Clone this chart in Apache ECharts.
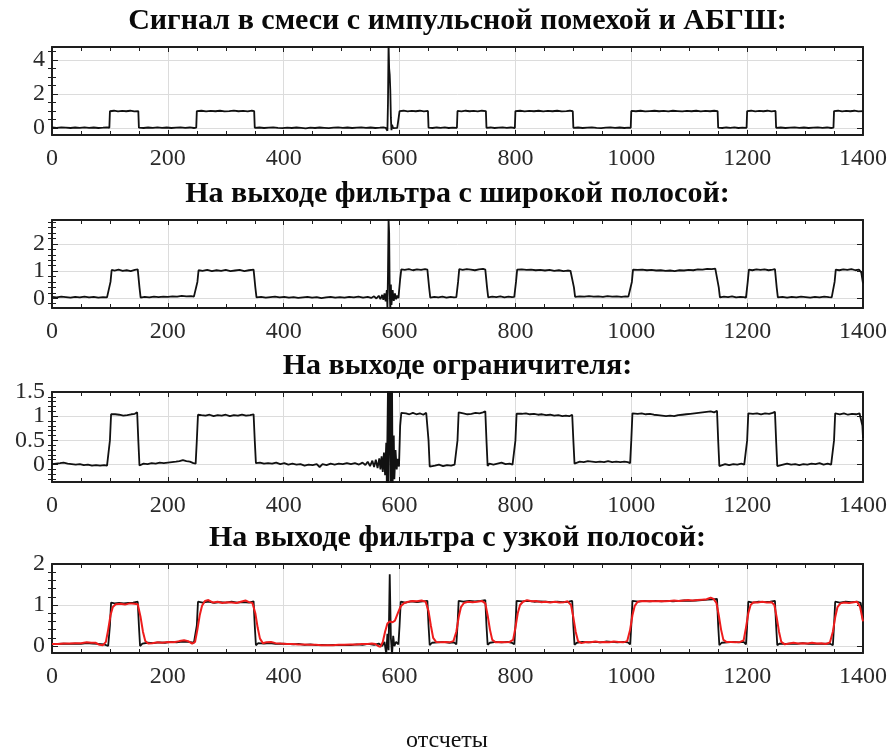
<!DOCTYPE html>
<html>
<head>
<meta charset="utf-8">
<script src="https://cdn.jsdelivr.net/npm/echarts@6/dist/echarts.min.js"></script>
<style>
html, body { margin: 0; padding: 0; background: #ffffff; }
#chart { width: 894px; height: 749px; }
</style>
</head>
<body>
<div id="chart"></div>
<script>
// ---- labels ----
const panelTitles = [
  'Сигнал в смеси с импульсной помехой и АБГШ:',
  'На выходе фильтра с широкой полосой:',
  'На выходе ограничителя:',
  'На выходе фильтра с узкой полосой:'
];
const xAxisName = 'отсчеты';
const xTicks = [0, 200, 400, 600, 800, 1000, 1200, 1400];

// ---- y axis ranges and tick labels for each panel ----
const yRange1 = [-0.4, 4.75];  const yTicks1 = [0, 2, 4];        const yMinor1 = 0.5;
const yRange2 = [-0.36, 2.88]; const yTicks2 = [0, 1, 2];        const yMinor2 = 0.2;
const yRange3 = [-0.36, 1.5];  const yTicks3 = [0, 0.5, 1, 1.5]; const yMinor3 = 0.1;
const yRange4 = [-0.17, 2];    const yTicks4 = [0, 1, 2];        const yMinor4 = 0.2;

// ---- signal + impulse noise + AWGN ----
const mixSignal = [
[0,0.04],[8,0.02],[16,0.05],[24,0.03],[32,0.01],[40,0.04],[48,0.02],[56,0.05],[64,0.02],[72,0.04],[80,0.01],[88,0.03],[95,0.05],[99,0.02],
[100,0.99],[107,1.02],[114,0.98],[121,1.01],[128,0.99],[135,1.02],[142,0.98],[149,1.0],
[150,0.03],[158,0.01],[166,0.04],[174,0.02],[182,0.05],[190,0.02],[198,0.04],[206,0.01],[214,0.03],[222,0.05],[230,0.02],[238,0.04],[245,0.01],[249,0.03],
[250,1.0],[258,1.02],[266,0.98],[274,1.01],[282,0.99],[290,1.02],[298,0.98],[306,1.0],[314,1.03],[322,0.99],[330,1.01],[338,0.98],[345,1.02],[349,1.0],
[350,0.02],[358,0.04],[366,0.01],[374,0.03],[382,0.05],[390,0.02],[398,0.0],[406,0.03],[414,0.01],[422,0.04],[430,0.02],[438,-0.01],[446,0.03],[454,0.01],[462,0.04],[470,0.02],[478,0.0],[486,0.03],[494,0.05],[502,0.02],[510,0.04],[518,0.01],[526,0.03],[534,0.05],[542,0.02],[550,0.04],[558,0.01],[566,0.03],[572,0.05],[576,0.02],
[578,0.08],[579,-0.15],[580,1.5],[581,4.9],[582,3.5],[583,3.1],[584,2.2],[585,0.6],[586,-0.12],[587,0.2],[589,0.0],[592,0.05],[596,0.02],[599,0.04],
[600,1.0],[607,1.02],[614,0.98],[621,1.01],[628,0.99],[635,1.02],[642,0.98],[649,1.01],
[650,0.03],[657,0.01],[664,0.04],[671,0.02],[678,0.05],[685,0.01],[692,0.03],[699,0.02],
[700,1.01],[707,0.98],[714,1.02],[721,0.99],[728,1.01],[735,0.98],[742,1.02],[749,1.0],
[750,0.02],[757,0.04],[764,0.01],[771,0.03],[778,0.05],[785,0.02],[792,0.04],[799,0.01],
[800,1.0],[808,1.02],[816,0.98],[824,1.01],[832,0.99],[840,1.02],[848,0.98],[856,1.01],[864,0.99],[872,1.02],[880,0.98],[888,1.0],[894,1.02],[899,0.99],
[900,0.02],[908,0.04],[916,0.01],[924,0.03],[932,0.05],[940,0.02],[948,0.0],[956,0.03],[964,0.05],[972,0.02],[980,0.04],[988,0.01],[995,0.03],[999,0.02],
[1000,1.01],[1008,0.99],[1016,1.02],[1024,0.98],[1032,1.0],[1040,1.02],[1048,0.99],[1056,1.01],[1064,0.98],[1072,1.02],[1080,1.0],[1088,0.98],[1096,1.01],[1104,0.99],[1112,1.02],[1120,0.98],[1128,1.01],[1136,0.99],[1143,1.02],[1149,1.0],
[1150,0.03],[1157,0.01],[1164,0.04],[1171,0.02],[1178,0.05],[1185,0.01],[1192,0.03],[1199,0.02],
[1200,1.0],[1207,1.02],[1214,0.98],[1221,1.01],[1228,0.99],[1235,1.02],[1242,0.98],[1249,1.01],
[1250,0.02],[1258,0.04],[1266,0.01],[1274,0.03],[1282,0.05],[1290,0.02],[1298,0.04],[1306,0.01],[1314,0.03],[1322,0.05],[1330,0.02],[1338,0.04],[1345,0.01],[1349,0.03],
[1350,1.0],[1357,1.02],[1364,0.98],[1371,1.01],[1378,0.99],[1385,1.02],[1392,0.98],[1400,1.0]
];

// ---- wideband filter output ----
const wideFilterOut = [
[0,0.05],[8,0.03],[16,0.06],[24,0.04],[32,0.02],[40,0.05],[48,0.03],[56,0.06],[64,0.03],[72,0.05],[80,0.02],[88,0.04],[95,0.03],[98,0.0],
[101,0.6],[103,1.04],[108,1.02],[115,1.05],[122,1.01],[129,1.03],[136,1.0],[143,1.04],[148,1.06],
[151,0.4],[153,0.02],[160,0.05],[168,0.03],[176,0.06],[184,0.04],[192,0.06],[200,0.05],[208,0.07],[216,0.06],[224,0.09],[232,0.07],[240,0.08],[245,0.06],[248,0.03],
[251,0.6],[253,1.03],[260,1.01],[268,1.04],[276,1.0],[284,1.03],[292,1.01],[300,1.04],[308,1.0],[316,1.02],[324,1.04],[332,1.0],[340,1.03],[348,1.05],
[351,0.4],[353,0.03],[361,0.05],[369,0.02],[377,0.04],[385,0.06],[393,0.03],[401,0.05],[409,0.02],[417,0.04],[425,0.01],[433,0.03],[441,0.05],[449,0.02],[457,0.04],[465,0.0],[473,0.03],[481,0.05],[489,0.02],[497,0.04],[505,0.02],[513,0.05],[521,0.03],[529,0.06],[537,0.02],[545,0.05],[551,0.01],[556,0.07],[560,-0.01],[564,0.09],[567,-0.03],[570,0.12],[572,-0.06],[574,0.18],[576,-0.12],[578,0.3],[579,-0.36],[580,0.9],[581,2.9],[582,2.4],[583,0.2],[584,-0.4],[585,0.5],[586,-0.25],[588,0.3],[590,-0.1],[592,0.18],[594,-0.04],[596,0.1],[598,0.0],
[601,0.7],[603,1.06],[609,1.04],[616,1.07],[623,1.03],[630,1.06],[637,1.04],[644,1.07],[648,1.05],
[651,0.4],[653,0.02],[660,0.05],[667,0.03],[674,0.06],[681,0.02],[688,0.05],[694,0.03],[698,0.04],
[701,0.6],[703,1.07],[709,1.04],[716,1.07],[723,1.05],[730,1.03],[737,1.06],[744,1.08],[748,1.05],
[751,0.4],[753,0.03],[760,0.06],[767,0.04],[774,0.07],[781,0.03],[788,0.06],[794,0.04],[798,0.05],
[801,0.6],[803,1.05],[811,1.06],[819,1.04],[827,1.05],[835,1.03],[843,1.04],[851,1.02],[859,1.04],[867,1.01],[875,1.03],[883,1.0],[890,1.02],[895,1.01],[898,1.03],
[901,0.4],[903,0.05],[911,0.07],[919,0.06],[927,0.08],[935,0.06],[943,0.07],[951,0.05],[959,0.08],[967,0.06],[975,0.07],[983,0.05],[990,0.07],[995,0.06],[998,0.05],
[1001,0.6],[1003,1.05],[1011,1.04],[1019,1.05],[1027,1.03],[1035,1.04],[1043,1.02],[1051,1.03],[1059,1.01],[1067,1.02],[1075,1.0],[1083,1.03],[1091,1.02],[1099,1.04],[1107,1.03],[1115,1.06],[1123,1.05],[1131,1.08],[1139,1.07],[1145,1.09],[1148,1.08],
[1151,0.4],[1153,0.03],[1160,0.06],[1167,0.04],[1174,0.07],[1181,0.03],[1188,0.05],[1194,0.04],[1198,0.02],
[1201,0.6],[1203,1.05],[1209,1.03],[1216,1.06],[1223,1.04],[1230,1.06],[1237,1.03],[1244,1.05],[1248,1.07],
[1251,0.4],[1253,0.03],[1261,0.05],[1269,0.02],[1277,0.05],[1285,0.03],[1293,0.06],[1301,0.04],[1309,0.02],[1317,0.05],[1325,0.03],[1333,0.06],[1341,0.04],[1346,0.03],[1348,0.04],
[1351,0.6],[1353,1.05],[1359,1.03],[1366,1.06],[1373,1.04],[1380,1.07],[1387,1.03],[1393,1.05],[1397,0.95],[1400,0.55]
];

// ---- limiter output ----
const limiterOut = [
[0,0.01],[7,0.02],[14,0.03],[20,0.04],[27,0.02],[34,0.01],[41,0.0],[48,0.01],[55,-0.01],[62,0.0],[69,-0.02],[76,-0.01],[83,-0.02],[90,-0.01],[95,-0.02],[98,-0.06],
[100,0.5],[102,1.04],[104,1.07],[109,1.04],[116,1.03],[123,1.01],[130,1.02],[137,1.04],[143,1.05],[147,1.08],
[149,0.5],[151,-0.02],[153,-0.06],[158,0.02],[165,0.01],[172,0.03],[179,0.02],[186,0.04],[193,0.03],[200,0.04],[207,0.05],[214,0.06],[220,0.07],[226,0.09],[232,0.07],[238,0.06],[244,0.03],[248,0.02],
[250,0.5],[252,1.03],[258,1.02],[265,1.01],[272,1.03],[279,1.0],[286,1.02],[293,1.01],[300,1.03],[307,1.0],[314,1.02],[321,1.01],[328,1.03],[335,1.01],[342,1.02],[348,1.04],
[350,0.5],[352,0.03],[359,0.04],[366,0.02],[373,0.03],[380,0.02],[387,0.04],[394,0.01],[401,0.03],[408,0.0],[415,0.02],[422,0.0],[429,0.01],[436,-0.02],[443,0.0],[450,-0.01],[457,0.01],[462,-0.05],[467,0.01],[474,-0.01],[481,0.02],[488,0.0],[495,0.02],[502,0.01],[509,0.03],[516,0.01],[523,0.03],[530,0.0],[536,0.04],[541,-0.01],[545,0.06],[549,-0.03],[553,0.08],[556,-0.05],[559,0.1],[562,-0.07],[565,0.13],[567,-0.1],[569,0.17],[571,-0.15],[573,0.25],[575,-0.22],[577,0.45],[578,-0.4],[580,1.6],[581,-0.4],[583,1.75],[584,1.6],[585,-0.4],[587,1.6],[588,-0.4],[590,0.6],[591,-0.3],[593,0.3],[595,-0.1],[597,0.12],[599,-0.04],
[601,0.8],[603,1.07],[605,1.03],[611,1.06],[617,1.04],[623,1.07],[629,1.04],[635,1.06],[641,1.03],[646,1.07],[648,1.05],
[650,0.5],[652,-0.04],[654,0.0],[661,-0.02],[668,0.0],[675,-0.03],[682,-0.01],[689,-0.02],[695,0.0],[698,-0.04],
[700,0.5],[702,1.08],[704,1.1],[710,1.06],[717,1.04],[724,1.05],[731,1.07],[738,1.06],[744,1.08],[748,1.1],
[750,0.5],[752,-0.03],[755,0.02],[762,0.0],[769,0.02],[776,0.04],[783,0.01],[790,0.02],[795,0.0],[798,-0.04],
[800,0.5],[802,1.05],[804,1.07],[811,1.05],[818,1.06],[825,1.04],[832,1.05],[839,1.03],[846,1.04],[853,1.02],[860,1.03],[867,1.01],[874,1.02],[881,1.0],[887,1.01],[893,1.0],[898,1.03],
[900,0.5],[902,0.02],[904,0.05],[911,0.06],[918,0.05],[925,0.07],[932,0.06],[939,0.05],[946,0.06],[953,0.05],[960,0.07],[967,0.05],[974,0.06],[981,0.05],[988,0.06],[994,0.05],[998,0.03],
[1000,0.5],[1002,1.06],[1004,1.08],[1011,1.05],[1018,1.06],[1025,1.04],[1032,1.05],[1039,1.03],[1046,1.02],[1053,1.01],[1060,1.0],[1067,1.01],[1074,1.0],[1081,1.02],[1088,1.03],[1095,1.04],[1102,1.05],[1109,1.06],[1116,1.07],[1123,1.08],[1130,1.09],[1137,1.1],[1143,1.08],[1148,1.11],
[1150,0.5],[1152,-0.03],[1155,0.0],[1162,0.01],[1169,-0.01],[1176,0.01],[1183,0.0],[1190,0.02],[1195,0.0],[1198,-0.04],
[1200,0.5],[1202,1.06],[1204,1.08],[1210,1.05],[1217,1.06],[1224,1.04],[1231,1.06],[1238,1.05],[1244,1.07],[1248,1.09],
[1250,0.5],[1252,-0.03],[1255,0.01],[1262,0.0],[1269,0.02],[1276,0.0],[1283,0.01],[1290,-0.01],[1297,0.01],[1304,0.0],[1311,0.02],[1318,0.01],[1325,0.03],[1332,0.0],[1339,0.02],[1345,0.0],[1348,-0.04],
[1350,0.5],[1352,1.06],[1354,1.08],[1360,1.04],[1367,1.06],[1374,1.03],[1381,1.05],[1388,1.04],[1394,1.06],[1397,1.02],[1399,0.8],[1400,0.55]
];

// ---- narrowband filter: input (black) and output (red) ----
const narrowIn = [
[0,0.04],[10,0.05],[20,0.06],[30,0.05],[40,0.06],[50,0.05],[60,0.07],[70,0.06],[80,0.05],[90,0.04],[97,0.0],
[100,0.5],[102,1.06],[108,1.04],[116,1.05],[124,1.04],[132,1.05],[140,1.06],[148,1.08],
[150,0.5],[152,0.0],[156,0.06],[165,0.08],[175,0.07],[185,0.09],[195,0.08],[205,0.1],[215,0.09],[225,0.11],[235,0.1],[245,0.08],[248,0.04],
[250,0.5],[252,1.08],[260,1.06],[270,1.08],[280,1.05],[290,1.07],[300,1.06],[310,1.08],[320,1.06],[330,1.07],[340,1.06],[348,1.09],
[350,0.5],[352,0.02],[356,0.07],[366,0.06],[376,0.07],[386,0.05],[396,0.06],[406,0.05],[416,0.04],[426,0.05],[436,0.03],[446,0.04],[456,0.02],[466,0.03],[476,0.02],[486,0.03],[496,0.02],[506,0.03],[516,0.02],[526,0.04],[536,0.03],[546,0.05],[556,0.03],[564,0.06],[570,0.0],[574,0.1],[577,-0.2],[579,0.3],[581,-0.1],[583,1.75],[585,0.2],[587,-0.2],[589,0.25],[591,0.0],[594,0.1],[598,0.04],
[600,0.5],[602,1.08],[610,1.06],[620,1.09],[630,1.07],[640,1.09],[648,1.1],
[650,0.5],[652,0.02],[656,0.08],[666,0.09],[676,0.1],[686,0.08],[694,0.09],[698,0.04],
[700,0.5],[702,1.1],[710,1.08],[720,1.1],[730,1.09],[740,1.1],[748,1.12],
[750,0.5],[752,0.03],[756,0.08],[766,0.1],[776,0.09],[786,0.1],[794,0.08],[798,0.04],
[800,0.5],[802,1.1],[812,1.09],[822,1.1],[832,1.08],[842,1.09],[852,1.08],[862,1.07],[872,1.08],[882,1.07],[892,1.08],[898,1.1],
[900,0.5],[902,0.03],[906,0.08],[916,0.1],[926,0.09],[936,0.1],[946,0.09],[956,0.11],[966,0.1],[976,0.09],[986,0.1],[994,0.09],[998,0.04],
[1000,0.5],[1002,1.1],[1012,1.08],[1022,1.1],[1032,1.09],[1042,1.1],[1052,1.09],[1062,1.1],[1072,1.09],[1082,1.1],[1092,1.11],[1102,1.1],[1112,1.11],[1122,1.12],[1132,1.13],[1140,1.14],[1148,1.15],
[1150,0.5],[1152,0.02],[1156,0.08],[1166,0.09],[1176,0.1],[1186,0.09],[1194,0.1],[1198,0.04],
[1200,0.5],[1202,1.08],[1210,1.06],[1220,1.08],[1230,1.07],[1240,1.08],[1248,1.1],
[1250,0.5],[1252,0.02],[1256,0.06],[1266,0.05],[1276,0.06],[1286,0.05],[1296,0.07],[1306,0.05],[1316,0.06],[1326,0.05],[1336,0.06],[1344,0.05],[1348,0.02],
[1350,0.5],[1352,1.08],[1360,1.06],[1370,1.08],[1380,1.07],[1390,1.08],[1396,1.05],[1400,0.6]
];

const narrowOut = [
[0,0.05],[10,0.05],[20,0.06],[30,0.06],[40,0.07],[50,0.07],[60,0.09],[68,0.08],[75,0.08],[82,0.03],[88,0.02],[93,0.1],[97,0.4],[101,0.75],[105,0.95],[110,1.02],[118,1.03],[126,1.01],[134,1.04],[142,1.03],[148,1.02],[153,0.7],[157,0.35],[161,0.12],[166,0.06],[173,0.07],[182,0.09],[190,0.08],[200,0.1],[210,0.09],[220,0.12],[228,0.14],[235,0.12],[242,0.06],[247,0.1],[251,0.4],[255,0.75],[259,0.98],[264,1.1],[270,1.12],[278,1.06],[286,1.08],[294,1.05],[302,1.07],[310,1.06],[318,1.05],[326,1.08],[334,1.11],[340,1.07],[346,1.05],[351,0.8],[355,0.45],[359,0.18],[364,0.07],[370,0.09],[378,0.1],[386,0.07],[395,0.06],[405,0.05],[415,0.05],[425,0.04],[435,0.04],[445,0.03],[455,0.03],[465,0.02],[475,0.02],[485,0.02],[495,0.03],[505,0.03],[515,0.04],[525,0.04],[535,0.05],[545,0.05],[552,0.06],[558,0.05],[563,0.0],[567,-0.02],[571,0.1],[575,0.35],[579,0.55],[583,0.6],[588,0.58],[592,0.62],[597,0.8],[602,0.97],[608,1.05],[615,1.08],[622,1.1],[630,1.09],[638,1.11],[645,1.08],[650,0.85],[654,0.5],[658,0.2],[663,0.1],[670,0.09],[678,0.1],[686,0.09],[693,0.12],[698,0.35],[702,0.7],[706,0.95],[711,1.05],[718,1.08],[726,1.07],[734,1.08],[742,1.1],[748,1.04],[752,0.75],[756,0.4],[760,0.15],[766,0.09],[774,0.1],[782,0.09],[790,0.1],[796,0.15],[800,0.45],[804,0.8],[808,1.0],[813,1.08],[820,1.12],[828,1.09],[836,1.1],[844,1.07],[852,1.08],[860,1.06],[868,1.08],[876,1.06],[884,1.07],[890,1.09],[896,1.0],[900,0.7],[904,0.35],[908,0.12],[914,0.07],[922,0.1],[930,0.09],[938,0.11],[946,0.09],[954,0.1],[962,0.09],[970,0.11],[978,0.1],[986,0.09],[993,0.12],[998,0.4],[1002,0.75],[1006,0.98],[1011,1.08],[1018,1.1],[1026,1.09],[1034,1.1],[1042,1.09],[1050,1.1],[1058,1.09],[1066,1.1],[1074,1.11],[1082,1.1],[1090,1.11],[1098,1.12],[1106,1.11],[1114,1.12],[1122,1.13],[1130,1.14],[1137,1.18],[1142,1.15],[1147,1.05],[1151,0.75],[1155,0.4],[1159,0.15],[1164,0.1],[1172,0.1],[1180,0.09],[1188,0.1],[1194,0.14],[1198,0.45],[1202,0.8],[1206,1.0],[1211,1.07],[1218,1.06],[1226,1.08],[1234,1.06],[1242,1.07],[1247,1.0],[1251,0.7],[1255,0.35],[1259,0.1],[1265,0.04],[1272,0.06],[1280,0.08],[1288,0.06],[1296,0.07],[1304,0.06],[1312,0.08],[1320,0.06],[1328,0.07],[1336,0.05],[1343,0.09],[1348,0.35],[1352,0.7],[1356,0.95],[1361,1.04],[1368,1.06],[1376,1.05],[1384,1.07],[1390,1.08],[1395,0.95],[1400,0.6]
];

// ---- drawing ----
const SERIF = "'Liberation Serif', 'DejaVu Serif', serif";
const AXIS_COLOR = '#1e1e1e';
const GRID_COLOR = '#dcdcdc';

const panels = [
  { title: panelTitles[0], range: yRange1, ticks: yTicks1, minor: yMinor1, lines: [{ data: mixSignal, color: '#111111', width: 1.8 }] },
  { title: panelTitles[1], range: yRange2, ticks: yTicks2, minor: yMinor2, lines: [{ data: wideFilterOut, color: '#111111', width: 1.8 }] },
  { title: panelTitles[2], range: yRange3, ticks: yTicks3, minor: yMinor3, lines: [{ data: limiterOut, color: '#111111', width: 1.8 }] },
  { title: panelTitles[3], range: yRange4, ticks: yTicks4, minor: yMinor4, lines: [{ data: narrowIn, color: '#111111', width: 1.8 }, { data: narrowOut, color: '#ee1c1c', width: 2 }] }
];

// plot-box placement of each subplot (px)
const boxes = [
  { top: 47, height: 88 },
  { top: 220, height: 88 },
  { top: 392, height: 90 },
  { top: 564, height: 89 }
];
const BOX_LEFT = 52, BOX_RIGHT = 31;

function minorValues(range, step) {
  const out = [];
  const start = Math.ceil(range[0] / step - 1e-9);
  for (let k = start; k * step <= range[1] + 1e-9; k++) out.push(+(k * step).toFixed(4));
  return out;
}

const grid = [], xAxis = [], yAxis = [], series = [], title = [];

panels.forEach((p, i) => {
  const b = boxes[i];
  grid.push({ left: BOX_LEFT, right: BOX_RIGHT, top: b.top, height: b.height, containLabel: false });

  title.push({
    text: p.title, left: BOX_LEFT + (894 - BOX_LEFT - BOX_RIGHT) / 2, top: b.top - 41, textAlign: 'center', padding: 0,
    textStyle: { fontFamily: SERIF, fontWeight: 'bold', fontSize: 30, color: '#0a0a0a' }
  });

  const lineStyle = { color: AXIS_COLOR, width: 2 };
  const baseX = {
    gridIndex: i, type: 'value', min: xTicks[0], max: xTicks[xTicks.length - 1], interval: xTicks[1] - xTicks[0],
    axisLine: { show: true, onZero: false, lineStyle },
    axisTick: { show: true, inside: true, length: 5, lineStyle: { color: AXIS_COLOR, width: 1 } },
    minorTick: { show: true, splitNumber: 4, length: 4, lineStyle: { color: AXIS_COLOR, width: 1 } }
  };
  xAxis.push(Object.assign({}, baseX, {
    position: 'bottom',
    axisLabel: { show: true, margin: 12, fontFamily: SERIF, fontSize: 24, color: '#2a2a2a', formatter: v => String(v) },
    splitLine: { show: true, lineStyle: { color: GRID_COLOR, width: 1 } }
  }));
  xAxis.push(Object.assign({}, baseX, {
    position: 'top', axisLabel: { show: false }, splitLine: { show: false }
  }));

  const minors = minorValues(p.range, p.minor).filter(v => p.ticks.indexOf(v) < 0);
  const baseY = { gridIndex: i, type: 'value', min: p.range[0], max: p.range[1] };
  // left: major ticks, labels, grid lines, frame
  yAxis.push(Object.assign({}, baseY, {
    position: 'left',
    axisLine: { show: true, onZero: false, lineStyle },
    axisTick: { show: true, inside: true, length: 6, customValues: p.ticks, lineStyle: { color: AXIS_COLOR, width: 1 } },
    axisLabel: { show: true, customValues: p.ticks, margin: 7, fontFamily: SERIF, fontSize: 24, color: '#2a2a2a', formatter: v => String(v) },
    splitLine: { show: true, lineStyle: { color: GRID_COLOR, width: 1 } }
  }));
  // left: minor ticks
  yAxis.push(Object.assign({}, baseY, {
    position: 'left',
    axisLine: { show: false },
    axisTick: { show: true, inside: true, length: 4, customValues: minors, lineStyle: { color: AXIS_COLOR, width: 1 } },
    axisLabel: { show: false }, splitLine: { show: false }
  }));
  // right: frame with major ticks
  yAxis.push(Object.assign({}, baseY, {
    position: 'right',
    axisLine: { show: true, onZero: false, lineStyle },
    axisTick: { show: true, inside: true, length: 6, customValues: p.ticks, lineStyle: { color: AXIS_COLOR, width: 1 } },
    axisLabel: { show: false }, splitLine: { show: false }
  }));
  // right: minor ticks
  yAxis.push(Object.assign({}, baseY, {
    position: 'right',
    axisLine: { show: false },
    axisTick: { show: true, inside: true, length: 4, customValues: minors, lineStyle: { color: AXIS_COLOR, width: 1 } },
    axisLabel: { show: false }, splitLine: { show: false }
  }));

  p.lines.forEach(l => {
    series.push({
      type: 'line', xAxisIndex: 2 * i, yAxisIndex: 4 * i, data: l.data,
      showSymbol: false, symbol: 'none', clip: true, silent: true,
      lineStyle: { color: l.color, width: l.width }
    });
  });
});

title.push({
  text: xAxisName, left: 'center', top: 729, padding: 0,
  textStyle: { fontFamily: SERIF, fontWeight: 'normal', fontSize: 24, color: '#111111' }
});

const chart = echarts.init(document.getElementById('chart'), null, { renderer: 'canvas' });
chart.setOption({
  animation: false,
  backgroundColor: '#ffffff',
  title, grid, xAxis, yAxis, series
});
</script>
</body>
</html>
